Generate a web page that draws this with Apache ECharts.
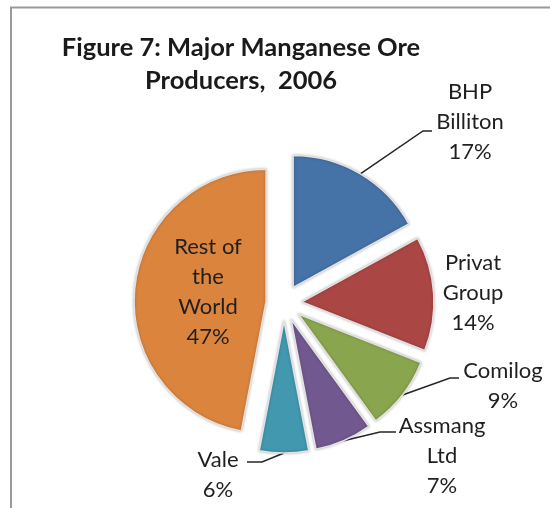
<!DOCTYPE html>
<html><head><meta charset="utf-8">
<script src="https://cdn.jsdelivr.net/npm/echarts@6/dist/echarts.min.js"></script>
<style>html,body{margin:0;padding:0;background:#fff}#c{width:550px;height:508px}</style>
</head><body><div id="c"></div>
<script>
// ---- data ----
const titleLines = ['Figure 7: Major Manganese Ore', 'Producers,  2006'];
const categories = ['BHP\nBilliton', 'Privat\nGroup', 'Comilog', 'Assmang\nLtd', 'Vale', 'Rest of\nthe\nWorld'];
const shares = [17, 14, 9, 7, 6, 47];

// ---- style / layout ----
const colors = ['#4572A7', '#AA4643', '#89A54E', '#71588F', '#4198AF', '#DB843D'];
const PIE_CX = 284, PIE_CY = 303, PIE_R = 132, EXPLODE = 18;
// label centre and leader-line path (from label side) per slice
const labelLayoutMap = [
  { x: 470, y: 122, line: [[423, 131], [432, 131]] },
  { x: 473, y: 293, line: null },
  { x: 503, y: 386, line: [[450, 378], [459, 378]] },
  { x: 442, y: 456, line: [[380, 432], [396, 432]] },
  { x: 218, y: 475, line: [[262, 462], [247, 462]] },
  { x: 208, y: 292, line: null }
];

const chart = echarts.init(document.getElementById('c'), null, { renderer: 'canvas' });
const total = shares.reduce((a, b) => a + b, 0);

function midDir(i) {
  let before = 0;
  for (let k = 0; k < i; k++) before += shares[k];
  const mid = (before + shares[i] / 2) / total * 2 * Math.PI; // clockwise from top
  return [Math.sin(mid), -Math.cos(mid)];
}
function edgePoint(i) {
  const d = midDir(i);
  return [PIE_CX + d[0] * (EXPLODE + PIE_R), PIE_CY + d[1] * (EXPLODE + PIE_R)];
}

// one pie series per slice, each shifted outward along its own bisector (exploded pie)
const series = categories.map((cat, i) => {
  const d = midDir(i);
  return {
    type: 'pie',
    silent: true,
    center: [PIE_CX + d[0] * EXPLODE, PIE_CY + d[1] * EXPLODE],
    radius: PIE_R,
    startAngle: 90,
    clockwise: true,
    z: 2,
    label: {
      formatter: p => p.name + '\n' + p.value + '%',
      fontFamily: 'Lato', fontSize: 22, lineHeight: 30, color: '#1f1f1f', align: 'center',
      overflow: 'none'
    },
    labelLine: { lineStyle: { color: '#262626', width: 1.5 } },
    emphasis: { disabled: true },
    data: categories.map((c, k) => k === i ? {
      name: c, value: shares[k],
      itemStyle: { color: colors[k], borderColor: '#e2e2e2', borderWidth: 1.5, shadowBlur: 3, shadowColor: 'rgba(0,0,0,0.25)' },
      label: { show: true },
      labelLine: { show: !!labelLayoutMap[k].line }
    } : {
      name: c, value: shares[k],
      itemStyle: { color: 'rgba(0,0,0,0)', borderWidth: 0, shadowBlur: 0 },
      label: { show: false }, labelLine: { show: false }
    }),
    labelLayout: function (params) {
      if (params.dataIndex !== i) return {};
      const L = labelLayoutMap[i];
      const out = { x: L.x, y: L.y, align: 'center', verticalAlign: 'middle', hideOverlap: false };
      if (L.line) out.labelLinePoints = [edgePoint(i), L.line[0], L.line[1]];
      return out;
    }
  };
});

chart.setOption({
  animation: false,
  graphic: [{
    type: 'rect', shape: { x: 11, y: 7.5, width: 700, height: 700 },
    style: { fill: 'none', stroke: '#9a9a9a', lineWidth: 2 }, silent: true
  }],
  title: {
    text: titleLines.join('\n'),
    left: 236, top: 26, textAlign: 'center',
    textStyle: { fontFamily: 'Lato', fontWeight: 'bold', fontSize: 25.5, lineHeight: 33, color: '#1a1a1a' }
  },
  series: series
});
</script>
</body></html>
